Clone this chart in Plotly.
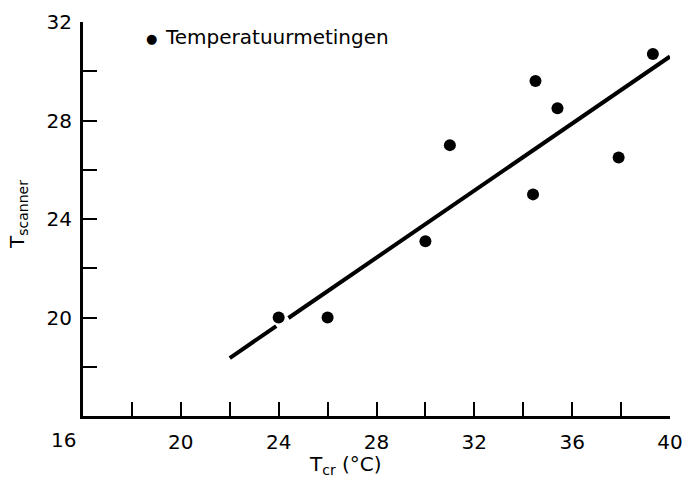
import plotly.graph_objects as go

# Data
meas_x = [24, 26, 30, 31, 34.5, 35.4, 34.4, 37.9, 39.3]
meas_y = [20, 20, 23.1, 27, 29.6, 28.5, 25, 26.5, 30.7]
fit_x = [22, 23.9, None, 24.4, 40]
fit_y = [18.35, 19.65, None, 19.98, 30.6]
x_ticks = [20, 24, 28, 32, 36, 40]
y_ticks = [20, 24, 28, 32]
legend_label = "Temperatuurmetingen"

FONT = "DejaVu Sans"
W, H = 684, 490
L, R, T, B = 83, 14, 22, 74
pw, ph = W - L - R, H - T - B

fig = go.Figure()
fig.add_trace(go.Scatter(x=fit_x, y=fit_y, mode="lines",
                         line=dict(color="black", width=4), showlegend=False,
                         connectgaps=False))
fig.add_trace(go.Scatter(x=meas_x, y=meas_y, mode="markers",
                         marker=dict(color="black", size=12), showlegend=False))

axis_common = dict(
    showgrid=False, zeroline=False, showline=True, linecolor="black", linewidth=3,
    ticks="inside", ticklen=14, tickwidth=2, tickcolor="black", automargin=False,
    tickfont=dict(family=FONT, size=20, color="black"),
    minor=dict(dtick=2, ticks="inside", ticklen=14, tickwidth=2, tickcolor="black"),
)
fig.update_xaxes(range=[16, 40], tickvals=x_ticks, ticktext=[str(v) for v in x_ticks],
                 ticklabelstandoff=6, **axis_common)
fig.update_yaxes(range=[16, 32], tickvals=y_ticks, ticktext=[str(v) for v in y_ticks],
                 ticklabelstandoff=4, **axis_common)

# '16' label under origin, shifted left
fig.add_annotation(x=16, y=0, xref="x", yref="paper", text="16", showarrow=False,
                   xanchor="center", yanchor="top", xshift=-20, yshift=-10,
                   font=dict(family=FONT, size=20, color="black"))
# Legend-like label
fig.add_annotation(x=(151 - L) / pw, y=(H - B - 38) / ph, xref="paper", yref="paper",
                   text="●", showarrow=False, xanchor="center", yanchor="middle",
                   font=dict(family=FONT, size=13, color="black"))
fig.add_annotation(x=(163 - L) / pw, y=(H - B - 37) / ph, xref="paper", yref="paper",
                   text=legend_label, showarrow=False, xanchor="left", yanchor="middle",
                   font=dict(family=FONT, size=20, color="black"))
# Axis titles
fig.add_annotation(x=(345 - L) / pw, y=-(465 - (H - B)) / ph, xref="paper", yref="paper",
                   text="T<sub>cr</sub> (°C)", showarrow=False, xanchor="center",
                   yanchor="middle", font=dict(family=FONT, size=20, color="black"))
fig.add_annotation(x=(18 - L) / pw, y=(H - B - 215) / ph, xref="paper", yref="paper",
                   text="T<sub>scanner</sub>", showarrow=False, textangle=-90,
                   xanchor="center", yanchor="middle",
                   font=dict(family=FONT, size=20, color="black"))

fig.update_layout(width=W, height=H, margin=dict(l=L, r=R, t=T, b=B),
                  plot_bgcolor="white", paper_bgcolor="white", showlegend=False)
fig.write_html("out.html")
